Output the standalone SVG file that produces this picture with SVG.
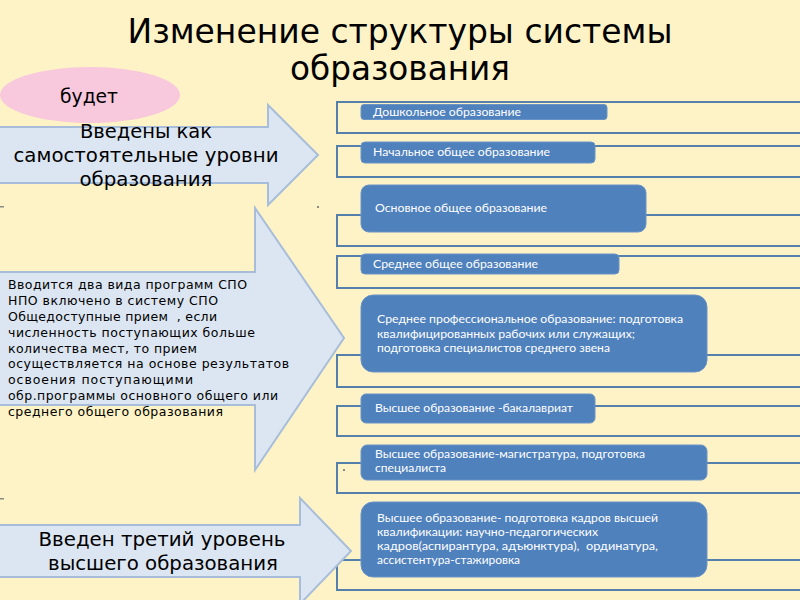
<svg xmlns="http://www.w3.org/2000/svg" width="800" height="600" viewBox="0 0 800 600">
<defs>
<style>
.bg{fill:#fef3c6}
.arrow{fill:#dce6f2;stroke:#a7bdd9;stroke-width:2}
.frame{fill:none;stroke:#5580ab;stroke-width:2}
.box{fill:#4f81bd;stroke:#6a93c6;stroke-width:1}
.bt{font-family:Lato,"Liberation Sans",sans-serif;font-size:12px;fill:#ffffff}
.big{font-family:"DejaVu Sans",sans-serif;font-size:20px;fill:#000000}
.small{font-family:"DejaVu Sans",sans-serif;font-size:12.5px;fill:#000000}
.title{font-family:"DejaVu Sans",sans-serif;font-size:34px;fill:#000000}
.mark{fill:#8a8a80}
</style>
</defs>
<rect class="bg" x="0" y="0" width="800" height="600"/>
<g id="title">
<text class="title" x="400" y="43" text-anchor="middle" textLength="545" lengthAdjust="spacingAndGlyphs">Изменение структуры системы</text>
<text class="title" x="400" y="80" text-anchor="middle" textLength="220" lengthAdjust="spacingAndGlyphs">образования</text>
</g>
<g id="marks">
<rect class="mark" x="0" y="128" width="4" height="1.5"/>
<rect class="mark" x="0" y="206" width="4" height="1.5"/>
<rect class="mark" x="317" y="206" width="2" height="2"/>
<rect class="mark" x="343" y="469" width="2" height="2"/>
<rect class="mark" x="0" y="498" width="4" height="1.5"/>
</g>
<g id="connectors">
<path class="frame" d="M800,102 H337 V133 H800"/>
<path class="frame" d="M800,146 H337 V177 H800"/>
<path class="frame" d="M800,215 H337 V246 H800"/>
<path class="frame" d="M800,256 H337 V288 H800"/>
<path class="frame" d="M800,355 H337 V387 H800"/>
<path class="frame" d="M800,406 H337 V436 H800"/>
<path class="frame" d="M800,463 H337 V493 H800"/>
<path class="frame" d="M800,560 H337 V590 H800"/>
</g>
<g id="arrow1">
<path class="arrow" d="M-3,127 H268 V105 L318,155 L268,205 V183 H-3 Z"/>
<text class="big" x="146" y="138" text-anchor="middle" textLength="132" lengthAdjust="spacingAndGlyphs">Введены как</text>
<text class="big" x="146" y="162" text-anchor="middle" textLength="265" lengthAdjust="spacingAndGlyphs">самостоятельные уровни</text>
<text class="big" x="146" y="186" text-anchor="middle" textLength="133" lengthAdjust="spacingAndGlyphs">образования</text>
</g>
<g id="budet">
<ellipse cx="90" cy="95" rx="90" ry="28" fill="#f8c8dc"/>
<text class="big" x="89" y="103" text-anchor="middle" textLength="58" lengthAdjust="spacingAndGlyphs">будет</text>
</g>
<g id="arrow2">
<path class="arrow" d="M-3,272 H255 V208 L344,338 L255,470 V405 H-3 Z"/>
<text class="small" x="8" y="289" textLength="239" lengthAdjust="spacing">Вводится два вида программ СПО</text>
<text class="small" x="8" y="305" textLength="210" lengthAdjust="spacing">НПО включено в систему СПО</text>
<text class="small" x="8" y="321" textLength="209" lengthAdjust="spacing" xml:space="preserve">Общедоступные прием  , если</text>
<text class="small" x="8" y="337" textLength="247" lengthAdjust="spacing">численность поступающих больше</text>
<text class="small" x="8" y="353" textLength="189" lengthAdjust="spacing">количества мест, то прием</text>
<text class="small" x="8" y="368" textLength="281" lengthAdjust="spacing">осуществляется на основе результатов</text>
<text class="small" x="8" y="384" textLength="185" lengthAdjust="spacing">освоения поступающими</text>
<text class="small" x="8" y="400" textLength="270" lengthAdjust="spacing">обр.программы основного общего или</text>
<text class="small" x="8" y="416" textLength="215" lengthAdjust="spacing">среднего общего образования</text>
</g>
<g id="arrow3">
<path class="arrow" d="M-3,525 H300 V498 L351,551 L300,604 V577 H-3 Z"/>
<text class="big" x="162" y="546" text-anchor="middle" textLength="247" lengthAdjust="spacingAndGlyphs">Введен третий уровень</text>
<text class="big" x="163" y="570" text-anchor="middle" textLength="230" lengthAdjust="spacingAndGlyphs">высшего образования</text>
</g>
<g id="node-doshkolnoe">
<rect class="box" x="361" y="104.5" width="246" height="15" rx="3"/>
<text class="bt" x="373" y="116" textLength="148" lengthAdjust="spacingAndGlyphs">Дошкольное образование</text>
</g>
<g id="node-nachalnoe">
<rect class="box" x="361" y="142" width="234" height="21" rx="4"/>
<text class="bt" x="373" y="156" textLength="177" lengthAdjust="spacingAndGlyphs">Начальное общее образование</text>
</g>
<g id="node-osnovnoe">
<rect class="box" x="361" y="185" width="285" height="47" rx="8"/>
<text class="bt" x="375" y="212" textLength="172" lengthAdjust="spacingAndGlyphs">Основное общее образование</text>
</g>
<g id="node-srednee">
<rect class="box" x="361" y="254" width="258" height="20" rx="4"/>
<text class="bt" x="373" y="268" textLength="165" lengthAdjust="spacingAndGlyphs">Среднее общее образование</text>
</g>
<g id="node-spo">
<rect class="box" x="361" y="295" width="346" height="77" rx="12"/>
<text class="bt" x="377" y="323" textLength="306" lengthAdjust="spacingAndGlyphs">Среднее профессиональное образование: подготовка</text>
<text class="bt" x="377" y="338" textLength="258" lengthAdjust="spacingAndGlyphs">квалифицированных рабочих или служащих;</text>
<text class="bt" x="377" y="352" textLength="233" lengthAdjust="spacingAndGlyphs">подготовка специалистов среднего звена</text>
</g>
<g id="node-bakalavriat">
<rect class="box" x="361" y="394" width="234" height="29" rx="5"/>
<text class="bt" x="375" y="412" textLength="198" lengthAdjust="spacingAndGlyphs">Высшее образование -бакалавриат</text>
</g>
<g id="node-magistratura">
<rect class="box" x="361" y="445" width="346" height="35" rx="6"/>
<text class="bt" x="375" y="458" textLength="270" lengthAdjust="spacingAndGlyphs">Высшее образование-магистратура, подготовка</text>
<text class="bt" x="375" y="472" textLength="71" lengthAdjust="spacingAndGlyphs">специалиста</text>
</g>
<g id="node-kadry">
<rect class="box" x="361" y="502" width="346" height="75" rx="12"/>
<text class="bt" x="377" y="522" textLength="281" lengthAdjust="spacingAndGlyphs">Высшее образование- подготовка кадров высшей</text>
<text class="bt" x="377" y="536" textLength="221" lengthAdjust="spacingAndGlyphs">квалификации: научно-педагогических</text>
<text class="bt" x="377" y="550" textLength="281" lengthAdjust="spacingAndGlyphs" xml:space="preserve">кадров(аспирантура, адъюнктура),  ординатура,</text>
<text class="bt" x="377" y="564" textLength="143" lengthAdjust="spacingAndGlyphs">ассистентура-стажировка</text>
</g>
</svg>
